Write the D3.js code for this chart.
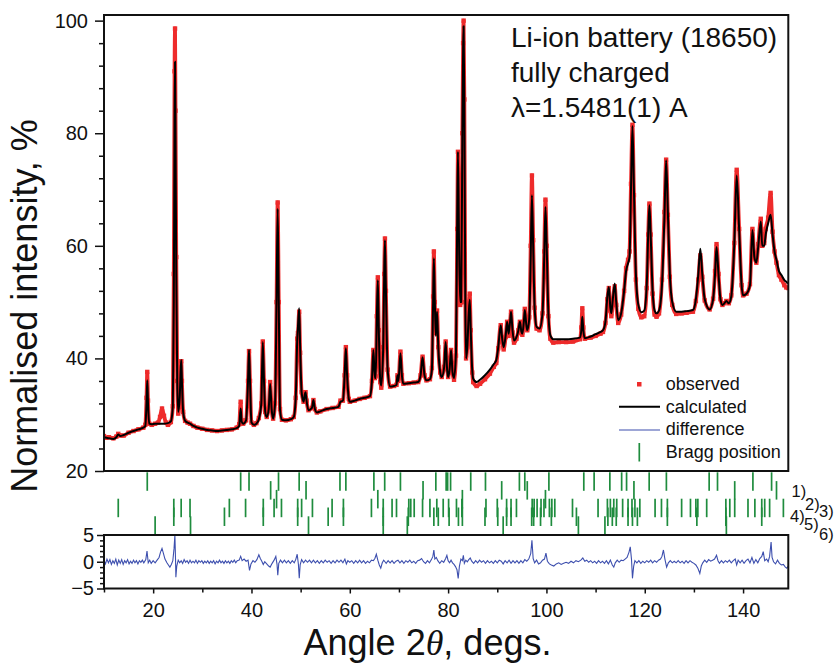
<!DOCTYPE html>
<html><head><meta charset="utf-8">
<script src="https://cdn.jsdelivr.net/npm/d3@7"></script>
<style>
body{margin:0;background:#fff;}
svg text{font-family:"Liberation Sans",Arial,sans-serif;fill:#111;}
</style>
</head><body>
<svg id="c" width="835" height="668"></svg>
<script>
// ---------- data ----------
const calculated = [
[10.0,26.0],[10.5,25.9],[11.0,25.8],[11.9,25.7],[12.5,26.0],[12.9,26.5],[13.3,26.2],[14.0,26.4],[15.0,26.8],[16.0,27.1],[17.0,27.4],[18.0,27.7],[18.4,28.0],[18.65,32.0],[18.8,36.1],[18.95,32.0],[19.2,28.4],[19.7,28.3],[20.4,28.4],[21.0,28.4],[22.0,28.4],[23.0,28.5],[23.6,28.8],[24.0,31.5],[24.2,50],[24.35,82],[24.45,92.7],[24.55,80],[24.7,55],[24.9,36],[25.1,30.5],[25.4,33],[25.6,38],[25.72,39.7],[25.85,36],[26.1,30.5],[26.5,28.9],[27.0,28.6],[27.5,28.4],[28.2,28.0],[29.0,27.7],[30.0,27.5],[31.0,27.3],[32.0,27.2],[33.0,27.1],[34.0,27.2],[35.0,27.3],[36.0,27.4],[37.0,27.6],[37.5,28.0],[37.8,31.1],[38.0,28.8],[38.3,28.4],[38.9,29.0],[39.3,36],[39.5,41.5],[39.7,36],[40.0,28.6],[40.5,28.2],[41.0,28.4],[41.5,29.2],[42.0,32],[42.3,42.9],[42.55,36],[42.8,30.5],[43.1,29.6],[43.5,31],[43.8,35.5],[44.1,31],[44.4,29.3],[44.8,32],[45.1,50],[45.33,66.6],[45.55,50],[45.8,31],[46.2,29.1],[47.0,29.0],[48.0,29.2],[48.6,29.6],[49.0,33],[49.3,43],[49.45,45.5],[49.7,48.9],[49.9,42],[50.2,34],[50.6,32.3],[50.85,33.6],[51.0,34.0],[51.2,32.5],[51.6,30.8],[52.3,31.2],[52.6,32.6],[52.9,31.0],[53.3,30.4],[54.0,30.6],[55.3,31.0],[56.5,31.2],[57.7,31.4],[58.1,32.3],[58.6,32.5],[58.95,37],[59.2,41.8],[59.45,37],[59.8,32.8],[60.0,32.3],[61.0,32.5],[62.0,32.8],[63.0,33.0],[64.1,33.3],[64.5,36],[64.8,41.5],[65.1,36.5],[65.25,36.5],[65.5,47],[65.7,53.9],[65.9,45],[66.2,36],[66.4,35.2],[66.8,42],[67.0,55],[67.15,61.0],[67.35,52],[67.7,38],[68.2,35.0],[69.0,35.1],[69.5,35.3],[69.7,37.0],[69.9,36],[70.3,40.9],[70.6,37],[70.9,35.5],[72.0,35.6],[73.0,35.7],[73.9,35.8],[74.4,37],[74.8,40.2],[75.2,37],[75.6,36.1],[76.3,36.3],[76.7,38],[76.95,50],[77.1,57.8],[77.3,50],[77.5,44],[77.75,48.3],[78.0,42],[78.4,37.5],[78.7,36.7],[79.2,38.5],[79.5,42.9],[79.8,38],[80.0,36.7],[80.3,38],[80.6,41.5],[80.9,37.5],[81.2,36.5],[81.6,41],[81.85,65],[82.0,76.7],[82.2,62],[82.45,50],[82.65,50],[82.9,80],[83.05,95],[83.15,99.0],[83.3,85],[83.5,50],[83.65,40],[83.9,42],[84.2,48],[84.4,50.4],[84.6,45],[84.9,38],[85.1,36.4],[85.8,35.8],[86.5,36.2],[87.5,37.0],[88.5,38.0],[89.3,39.0],[89.8,39.7],[90.2,42],[90.7,45.9],[91.0,43.5],[91.3,42.0],[91.7,44],[92.0,46.5],[92.3,44.4],[92.6,46.5],[92.8,48.3],[93.1,45],[93.4,43.2],[93.9,43.8],[94.3,45],[94.6,46.5],[94.9,44.8],[95.1,44.4],[95.4,46.5],[95.6,48.6],[95.9,46],[96.1,45.0],[96.5,47],[96.8,58],[97.05,69.0],[97.3,60],[97.6,49],[98.0,45.6],[98.6,45.3],[99.2,48],[99.55,58],[99.8,66.9],[100.05,60],[100.4,48],[100.8,44.1],[101.4,43.4],[102.5,43.4],[104.0,43.4],[105.4,43.5],[106.8,43.7],[107.1,45],[107.3,47.4],[107.5,45],[107.8,43.6],[109.0,43.9],[110.0,44.3],[111.0,44.7],[111.5,45.0],[112.0,46.5],[112.4,51],[112.7,52.7],[113.0,49],[113.2,48.0],[113.5,50.5],[113.9,53.3],[114.2,50],[114.6,46.8],[115.2,48],[115.8,52],[116.2,55.5],[116.6,56.9],[116.9,58],[117.2,70],[117.5,81.3],[117.8,70],[118.2,55],[118.7,49.5],[119.3,48.2],[119.9,48.5],[120.4,53],[120.7,62],[120.95,67.2],[121.2,62],[121.6,52],[122.0,48.5],[122.4,48.0],[122.9,48.5],[123.5,53],[124.0,65],[124.35,75.2],[124.7,66],[125.1,55],[125.6,50],[126.4,48.3],[127.5,48.3],[128.5,48.4],[129.8,48.6],[130.4,50.5],[130.9,55],[131.3,59.5],[131.7,55],[132.2,50.5],[133.2,48.7],[133.9,50.5],[134.3,55],[134.6,59.8],[135.0,55],[135.4,50.5],[135.8,49.5],[136.2,49.8],[136.6,50.2],[137.1,49.8],[137.6,51],[138.2,60],[138.7,72.5],[139.2,63],[139.7,53],[140.0,51.2],[140.7,51.5],[141.4,53],[141.9,62.8],[142.3,58],[142.7,57],[143.1,60],[143.6,64.3],[143.9,60],[144.3,60],[144.6,62],[145.1,64],[145.6,65.5],[146.0,62],[146.4,59],[146.8,57.5],[147.3,55.5],[147.8,54.8],[148.4,53.9],[148.8,53.6],[149.2,53.3]
];
const observed = [
[10.0,26.2],[10.5,25.9],[11.0,26.0],[11.9,25.8],[12.5,26.1],[12.9,26.6],[13.3,26.3],[14.0,26.3],[15.0,26.8],[16.0,27.1],[17.0,27.4],[18.0,27.7],[18.4,28.2],[18.65,33.0],[18.8,37.6],[18.95,32.5],[19.2,28.4],[19.7,28.2],[20.4,28.4],[21.0,28.6],[21.4,29.6],[21.8,31.1],[22.2,29.8],[22.6,28.6],[23.0,28.2],[23.6,28.7],[24.0,31.5],[24.2,55],[24.35,91],[24.45,98.6],[24.55,84],[24.7,58],[24.9,36],[25.1,30.2],[25.4,33],[25.6,38],[25.72,39.5],[25.85,36],[26.1,30.5],[26.5,28.9],[27.0,28.6],[27.5,28.4],[28.2,28.0],[29.0,27.7],[30.0,27.5],[31.0,27.3],[32.0,27.2],[33.0,27.1],[34.0,27.2],[35.0,27.3],[36.0,27.4],[37.0,27.7],[37.5,28.3],[37.8,32.3],[38.0,29.0],[38.3,28.4],[38.9,29.0],[39.3,36],[39.5,41.3],[39.7,36],[40.0,28.6],[40.5,28.2],[41.0,28.5],[41.5,29.4],[42.0,32],[42.3,43.0],[42.55,36],[42.8,30.5],[43.1,29.6],[43.5,31],[43.8,35.8],[44.1,31],[44.4,29.3],[44.8,32],[45.1,50],[45.33,67.7],[45.55,50],[45.8,31],[46.2,29.1],[47.0,29.0],[48.0,29.2],[48.6,29.6],[49.0,33],[49.3,43.5],[49.45,44.5],[49.7,48.3],[49.9,41],[50.2,34],[50.6,32.3],[50.85,33.6],[51.0,34.0],[51.2,32.5],[51.6,30.8],[52.3,31.2],[52.6,32.6],[52.9,31.0],[53.3,30.4],[54.0,30.6],[55.3,31.0],[56.5,31.2],[57.7,31.4],[58.1,32.5],[58.6,32.5],[58.95,37],[59.2,42.0],[59.45,37],[59.8,32.8],[60.0,32.3],[61.0,32.5],[62.0,32.8],[63.0,33.0],[64.1,33.3],[64.5,36],[64.8,41.5],[65.1,36.5],[65.25,36.8],[65.5,47.5],[65.7,54.4],[65.9,45],[66.2,35.8],[66.4,34.8],[66.8,42],[67.0,55],[67.15,61.3],[67.35,52],[67.7,38],[68.2,35.0],[69.0,35.1],[69.5,35.3],[69.7,37.0],[69.9,36],[70.3,41.2],[70.6,37],[70.9,35.5],[72.0,35.6],[73.0,35.7],[73.9,35.8],[74.4,37],[74.8,40.3],[75.2,37],[75.6,36.1],[76.3,36.3],[76.7,38.3],[76.95,51],[77.1,59.0],[77.3,50],[77.5,44.5],[77.75,48.5],[78.0,42],[78.4,37.5],[78.7,36.7],[79.2,38.5],[79.5,43.0],[79.8,38.5],[80.0,36.7],[80.3,38],[80.6,41.5],[80.9,37.5],[81.2,36.2],[81.6,40.5],[81.85,63],[82.0,76.7],[82.2,62],[82.45,49.5],[82.65,50],[82.9,80],[83.05,96],[83.15,100.0],[83.3,86],[83.5,50],[83.65,40],[83.9,42],[84.2,48.5],[84.4,51.5],[84.6,45],[84.9,37.5],[85.1,35.8],[85.8,35.1],[86.5,35.5],[87.5,36.3],[88.5,37.3],[89.3,38.5],[89.8,39.2],[90.2,41.8],[90.7,45.9],[91.0,43.2],[91.3,41.6],[91.7,43.8],[92.0,46.5],[92.3,44],[92.6,46.5],[92.8,48.3],[93.1,44.6],[93.4,42.8],[93.9,43.5],[94.3,45],[94.6,46.5],[94.9,44.5],[95.1,44.2],[95.4,46.5],[95.6,48.8],[95.9,46],[96.1,45.0],[96.5,47.3],[96.8,60],[97.05,72.5],[97.3,61],[97.6,49],[98.0,45.3],[98.6,45.0],[99.2,48],[99.55,59],[99.8,68.2],[100.05,60],[100.4,47.5],[100.8,43.5],[101.4,42.8],[102.5,42.9],[104.0,42.9],[105.4,43.0],[106.8,43.4],[107.1,45.5],[107.3,48.9],[107.5,45.5],[107.8,43.5],[109.0,43.7],[110.0,44.0],[111.0,44.4],[111.5,44.7],[112.0,46.3],[112.4,50.5],[112.7,52.5],[113.0,48.5],[113.2,47.5],[113.5,49.8],[113.9,52.8],[114.2,49.5],[114.6,46.3],[115.2,47.8],[115.8,52],[116.2,56],[116.6,57.5],[116.9,59],[117.2,71],[117.5,81.5],[117.8,69],[118.2,54],[118.7,48.8],[119.3,47.3],[119.9,47.5],[120.4,52.5],[120.7,62],[120.95,67.5],[121.2,62],[121.6,51.5],[122.0,47.8],[122.4,47.4],[122.9,48.0],[123.5,54],[124.0,66],[124.35,75.3],[124.7,65.5],[125.1,54.5],[125.6,49.5],[126.4,47.9],[127.5,48.0],[128.5,48.1],[129.8,48.3],[130.4,50.2],[130.9,54],[131.3,58.3],[131.7,54.5],[132.2,50.3],[133.2,48.7],[133.9,50.6],[134.3,55.5],[134.6,60.3],[135.0,55],[135.4,50.5],[135.8,49.5],[136.2,49.8],[136.6,50.2],[137.1,49.8],[137.6,51.2],[138.2,60.5],[138.7,73.5],[139.2,63],[139.7,53],[140.0,51.2],[140.7,51.5],[141.4,53.2],[141.9,63.0],[142.3,58],[142.7,57],[143.1,60.3],[143.6,64.8],[143.9,60],[144.3,60.5],[144.6,63],[145.1,65],[145.6,69.4],[146.0,62.5],[146.4,59],[146.8,57],[147.3,54.8],[147.8,54.0],[148.4,53.0],[148.8,52.6],[149.2,52.5]
];
const difference = [
[10.0,0.3],[10.3,-0.4],[10.6,0.5],[10.9,-0.2],[11.2,0.4],[11.5,-0.5],[11.8,0.2],[12.1,-0.3],[12.4,0.5],[12.7,-0.6],[13.0,0.3],[13.3,-0.3],[13.6,0.4],[13.9,-0.5],[14.2,0.2],[14.5,-0.2],[14.8,0.4],[15.1,-0.4],[15.4,0.1],[15.7,-0.3],[16.0,0.3],[16.3,-0.2],[16.6,0.2],[16.9,-0.4],[17.2,0.2],[17.5,-0.1],[17.8,0.3],[18.1,-0.2],[18.5,0.4],[18.75,2.0],[19.0,-0.2],[19.3,0.3],[19.6,-0.3],[20.0,0.2],[20.4,-0.2],[20.8,0.3],[21.2,0.8],[21.5,1.8],[21.8,2.5],[22.1,1.5],[22.4,0.5],[22.8,-0.2],[23.1,-0.6],[23.4,-1.0],[23.7,-0.5],[24.0,0.2],[24.25,2.5],[24.42,5.0],[24.55,0.5],[24.62,-2.9],[24.8,-0.8],[25.1,0.3],[25.4,-0.2],[25.7,0.2],[26.0,-0.3],[26.3,0.4],[26.6,-0.1],[26.9,0.2],[27.2,-0.3],[27.5,0.3],[27.8,-0.2],[28.1,0.1],[28.4,-0.2],[28.7,0.3],[29.0,-0.3],[29.3,0.2],[29.6,-0.1],[29.9,0.2],[30.2,-0.3],[30.5,0.1],[30.8,-0.2],[31.1,0.2],[31.4,-0.3],[31.7,0.1],[32.0,-0.2],[32.3,0.2],[32.6,-0.4],[32.9,0.1],[33.2,-0.2],[33.5,0.3],[33.8,-0.2],[34.1,0.1],[34.4,-0.3],[34.7,0.2],[35.0,-0.2],[35.3,0.1],[35.6,-0.3],[35.9,0.2],[36.2,-0.1],[36.5,0.3],[36.8,-0.2],[37.1,0.2],[37.5,0.3],[37.8,1.0],[38.1,0.2],[38.5,0.5],[38.9,0.1],[39.3,0.3],[39.6,-1.6],[39.9,-0.4],[40.3,0.2],[40.7,-0.1],[41.1,0.4],[41.5,1.3],[41.8,0.6],[42.1,0.1],[42.4,-0.5],[42.7,0.0],[43.1,-0.4],[43.5,-0.8],[43.8,-1.0],[44.2,-0.3],[44.6,0.3],[44.95,1.0],[45.2,-0.5],[45.35,-2.5],[45.55,-0.3],[45.9,0.3],[46.3,-0.2],[46.7,0.3],[47.1,-0.2],[47.5,0.2],[47.9,-0.3],[48.3,0.2],[48.7,-0.2],[49.0,0.4],[49.3,1.4],[49.55,-0.5],[49.72,-3.1],[49.9,-0.6],[50.2,0.4],[50.6,-0.2],[51.0,0.3],[51.4,-0.1],[51.8,0.3],[52.2,-0.2],[52.6,0.3],[53.0,-0.2],[53.4,0.2],[53.8,-0.3],[54.2,0.2],[54.6,-0.2],[55.0,0.3],[55.4,-0.1],[55.8,0.2],[56.2,-0.3],[56.6,0.2],[57.0,-0.2],[57.4,0.3],[57.8,-0.1],[58.2,0.3],[58.6,-0.2],[59.0,0.5],[59.3,-0.4],[59.6,0.2],[60.0,-0.1],[60.4,0.2],[60.8,-0.3],[61.2,0.2],[61.6,-0.2],[62.0,0.3],[62.4,-0.2],[62.8,0.2],[63.2,-0.3],[63.6,0.1],[64.0,-0.2],[64.4,0.3],[64.8,0.2],[65.1,0.6],[65.4,1.4],[65.7,0.3],[66.0,-0.6],[66.3,-1.2],[66.6,-0.2],[66.9,0.3],[67.15,0.0],[67.4,-0.3],[67.8,0.2],[68.2,-0.2],[68.6,0.2],[69.0,-0.3],[69.4,0.1],[69.8,0.3],[70.2,-0.2],[70.6,0.2],[71.0,-0.3],[71.4,0.2],[71.8,-0.1],[72.2,0.3],[72.6,-0.2],[73.0,0.1],[73.4,-0.3],[73.8,0.2],[74.2,0.3],[74.6,0.6],[75.0,0.0],[75.4,-0.3],[75.8,0.2],[76.2,-0.2],[76.6,0.4],[76.9,1.0],[77.1,2.2],[77.3,0.5],[77.6,0.8],[77.9,0.2],[78.3,-0.3],[78.7,0.2],[79.1,-0.1],[79.5,0.6],[79.75,1.2],[80.0,0.2],[80.3,-0.2],[80.6,0.3],[80.9,-0.2],[81.2,-0.5],[81.5,-0.9],[81.8,-1.5],[82.05,-3.1],[82.3,-0.8],[82.6,0.5],[82.9,0.2],[83.1,1.2],[83.3,-0.3],[83.6,0.3],[83.9,0.0],[84.2,0.4],[84.5,0.7],[84.8,0.1],[85.2,-0.3],[85.6,0.2],[86.0,-0.2],[86.4,0.3],[86.8,-0.1],[87.2,0.2],[87.6,-0.3],[88.0,0.2],[88.4,-0.2],[88.8,0.1],[89.2,-0.3],[89.6,0.2],[90.0,-0.2],[90.4,0.3],[90.8,0.1],[91.2,-0.4],[91.6,0.2],[92.0,-0.2],[92.4,0.3],[92.8,-0.3],[93.2,0.2],[93.6,-0.2],[94.0,0.2],[94.4,-0.3],[94.8,0.2],[95.2,-0.2],[95.6,0.4],[96.0,0.1],[96.4,0.5],[96.8,1.5],[97.05,4.0],[97.3,0.6],[97.6,-0.2],[98.0,0.3],[98.4,-0.4],[98.8,-0.2],[99.2,0.3],[99.6,0.5],[99.9,1.6],[100.2,0.1],[100.6,-0.4],[101.0,-0.6],[101.5,-0.8],[102.0,-0.4],[102.5,-0.2],[103.0,-0.5],[103.5,-0.3],[104.0,-0.1],[104.5,-0.3],[105.0,0.1],[105.5,-0.2],[106.0,0.2],[106.5,0.0],[107.0,0.3],[107.4,0.7],[107.8,0.1],[108.2,0.3],[108.6,-0.1],[109.0,0.2],[109.4,-0.2],[109.8,0.1],[110.2,-0.3],[110.6,0.2],[111.0,-0.2],[111.4,0.1],[111.8,-0.3],[112.2,0.2],[112.6,-0.4],[113.0,0.3],[113.4,-0.6],[113.7,-1.0],[114.0,-0.2],[114.4,0.3],[114.8,-0.1],[115.2,0.3],[115.6,0.2],[116.0,0.5],[116.4,0.8],[116.8,1.8],[117.05,2.8],[117.3,0.5],[117.5,-3.1],[117.75,-0.8],[118.0,0.2],[118.4,-0.2],[118.8,0.2],[119.2,-0.3],[119.6,0.1],[120.0,-0.2],[120.4,0.2],[120.8,-0.1],[121.2,0.3],[121.6,-0.2],[122.0,0.2],[122.4,-0.1],[122.8,0.3],[123.2,0.5],[123.5,1.0],[123.8,2.2],[124.1,0.5],[124.45,-1.0],[124.8,-0.2],[125.2,0.2],[125.6,-0.2],[126.0,0.1],[126.4,-0.2],[126.8,0.2],[127.2,-0.2],[127.6,0.1],[128.0,-0.3],[128.4,0.2],[128.8,-0.2],[129.2,0.2],[129.6,-0.1],[130.0,-0.3],[130.4,-0.6],[130.8,-1.2],[131.2,-2.2],[131.5,-0.8],[131.8,-0.2],[132.2,0.3],[132.6,-0.1],[133.0,0.4],[133.4,0.1],[133.8,0.3],[134.2,0.5],[134.6,1.2],[134.9,0.2],[135.2,-0.3],[135.6,0.2],[136.0,-0.2],[136.4,0.2],[136.8,-0.1],[137.2,0.3],[137.6,-0.2],[138.0,0.2],[138.4,0.5],[138.7,-0.6],[139.0,0.3],[139.4,-0.2],[139.8,0.3],[140.2,-0.3],[140.6,0.2],[141.0,0.5],[141.4,-0.2],[141.8,0.8],[142.2,-0.3],[142.6,0.4],[143.0,-0.2],[143.4,0.6],[143.8,1.0],[144.1,1.9],[144.4,0.2],[144.8,0.5],[145.1,0.0],[145.4,1.0],[145.7,3.7],[145.9,0.8],[146.2,0.0],[146.6,-0.4],[147.0,0.3],[147.4,-0.3],[147.8,-0.6],[148.2,-0.5],[148.6,-1.0],[148.9,-1.2],[149.2,-0.8]
];
const braggPhase1 = [18.8,37.8,39.5,45.5,49.7,58.0,59.2,64.9,67.1,70.3,77.5,79.6,79.9,80.5,84.6,87.6,94.5,95.6,100.5,107.6,109.7,112.9,115.3,116.3,120.9,124.4,133.1,134.8,142.0,145.8];
const braggPhase2 = [43.9,51.1,74.9,90.9,96.1,117.8,138.3,146.8];
const braggPhase3 = [45.1,65.7,82.9,99.8];
const braggPhase4 = [12.9,24.2,25.7,27.5,35.5,38.8,42.4,44.6,46.1,49.4,50.2,52.4,56.4,58.7,64.4,66.8,68.6,69.5,72.0,72.4,73.1,74.8,76.3,77.7,79.0,80.1,81.7,82.8,87.7,90.0,91.9,92.8,93.9,97.1,97.5,98.1,98.9,99.5,100.6,101.1,101.7,105.3,110.5,112.4,113.0,113.7,114.3,115.5,116.6,117.4,118.0,119.0,122.1,123.4,124.6,127.5,129.3,130.4,130.8,132.6,136.5,137.3,138.3,141.0,142.4,143.8,144.4,145.4,148.2];
const braggPhase5 = [24.2,34.5,42.4,49.4,55.6,58.7,66.8,71.9,77.1,78.0,80.2,82.1,82.9,87.5,90.1,91.9,92.8,97.0,97.4,98.8,101.0,106.1,112.5,113.4,114.2,116.6,117.5,118.5,124.6,130.6,136.5,143.8];
const braggPhase6 = [20.4,27.6,51.6,66.8,71.7,91.2,106.5,111.9,136.6];
const phaseLabels = ["1)","2)","3)","4)","5)","6)"];
const xMajorTicks = [20,40,60,80,100,120,140];
const xMinorTicks = [10,30,50,70,90,110,130];
const yMajorTicks = [20,40,60,80,100];
const yMinorTicks = [24,28,32,36,44,48,52,56,64,68,72,76,84,88,92,96];
const diffMajorTicks = [-5,0,5];
const diffMinorTicks = [-4,-3,-2,-1,1,2,3,4];
const annotationLines = ["Li-ion battery (18650)","fully charged","\u03bb=1.5481(1) A"];
const legendLabels = ["observed","calculated","difference","Bragg position"];

// ---------- drawing ----------
const svg = d3.select("#c");
const FONT = '"Liberation Sans",Arial,sans-serif';
const RED = "#ee2b2b", BLUE = "#3d4fae", GREEN = "#1f8c3e";
const x = d3.scaleLinear().domain([10,149.2]).range([104,788.3]);
const y = d3.scaleLinear().domain([20,101]).range([471,15]);
const yd = d3.scaleLinear().domain([-5,5]).range([588.5,535]);

const defs = svg.append("defs");
defs.append("clipPath").attr("id","clipMain").append("rect")
  .attr("x",104).attr("y",15).attr("width",684.3).attr("height",456);
defs.append("clipPath").attr("id","clipDiff").append("rect")
  .attr("x",104).attr("y",535).attr("width",684.3).attr("height",53.5);

const gMain = svg.append("g").attr("clip-path","url(#clipMain)");
const lineMain = d3.line().x(d=>x(d[0])).y(d=>y(d[1])).curve(d3.curveMonotoneX);

// observed band + markers
gMain.append("path").datum(observed).attr("d",lineMain)
  .attr("fill","none").attr("stroke",RED).attr("stroke-width",3.8).attr("stroke-linejoin","round");
gMain.selectAll("rect.obs").data(observed).join("rect").attr("class","obs")
  .attr("x",d=>x(d[0])-2.2).attr("y",d=>y(d[1])-2.2).attr("width",4.4).attr("height",4.4)
  .attr("fill",RED);
// calculated
gMain.append("path").datum(calculated).attr("d",lineMain)
  .attr("fill","none").attr("stroke","#000").attr("stroke-width",2).attr("stroke-linejoin","round");

// difference
const gDiff = svg.append("g").attr("clip-path","url(#clipDiff)");
gDiff.append("path").datum(difference)
  .attr("d",d3.line().x(d=>x(d[0])).y(d=>yd(d[1])))
  .attr("fill","none").attr("stroke",BLUE).attr("stroke-width",1.1);

// Bragg ticks
const phases = [braggPhase1,braggPhase2,braggPhase3,braggPhase4,braggPhase5,braggPhase6];
phases.forEach((ph,i)=>{
  const top = 472.3 + i*8.8;
  svg.append("g").selectAll("line").data(ph).join("line")
    .attr("x1",d=>x(d)).attr("x2",d=>x(d))
    .attr("y1",top).attr("y2",top+18.5)
    .attr("stroke",GREEN).attr("stroke-width",1.7);
});
const labelPos = [[791.5,497],[805,509.5],[819,516.5],[790,522],[804,529.5],[819,539.5]];
svg.append("g").selectAll("text").data(phaseLabels).join("text")
  .attr("x",(d,i)=>labelPos[i][0]).attr("y",(d,i)=>labelPos[i][1])
  .attr("font-size",16.5).text(d=>d);

// frames
svg.append("rect").attr("x",104).attr("y",15).attr("width",684.3).attr("height",456)
  .attr("fill","none").attr("stroke","#111").attr("stroke-width",2);
svg.append("rect").attr("x",104).attr("y",535).attr("width",684.3).attr("height",53.5)
  .attr("fill","none").attr("stroke","#111").attr("stroke-width",2);

function styleAxis(g){
  g.select(".domain").remove();
  g.selectAll("line").attr("stroke","#111").attr("stroke-width",1.5);
  g.selectAll("text").attr("font-family",FONT).attr("font-size",20).attr("fill","#111");
}
// main y axis
svg.append("g").attr("transform","translate(104,0)")
  .call(d3.axisLeft(y).tickValues(yMajorTicks).tickSize(9).tickPadding(7).tickFormat(d3.format("d")))
  .call(styleAxis);
svg.append("g").attr("transform","translate(104,0)")
  .call(d3.axisLeft(y).tickValues(yMinorTicks).tickSize(5).tickFormat(""))
  .call(styleAxis);
// diff y axis
svg.append("g").attr("transform","translate(104,0)")
  .call(d3.axisLeft(yd).tickValues(diffMajorTicks).tickSize(7).tickPadding(3).tickFormat(d3.format("d")))
  .call(styleAxis);
svg.append("g").attr("transform","translate(104,0)")
  .call(d3.axisLeft(yd).tickValues(diffMinorTicks).tickSize(4).tickFormat(""))
  .call(styleAxis);
// x axis
svg.append("g").attr("transform","translate(0,588.5)")
  .call(d3.axisBottom(x).tickValues(xMajorTicks).tickSize(5).tickPadding(9))
  .call(styleAxis);
svg.append("g").attr("transform","translate(0,588.5)")
  .call(d3.axisBottom(x).tickValues(xMinorTicks).tickSize(4).tickFormat(""))
  .call(styleAxis);

// axis titles
svg.append("text").attr("transform","translate(37,306) rotate(-90)")
  .attr("text-anchor","middle").attr("font-size",36).text("Normalised intensity, %");
const xt = svg.append("text").attr("x",427.5).attr("y",655).attr("text-anchor","middle").attr("font-size",36);
xt.append("tspan").text("Angle 2");
xt.append("tspan").attr("font-style","italic").attr("font-family",'"Liberation Serif","Times New Roman",serif').text("\u03b8");
xt.append("tspan").text(", degs.");

// annotation
svg.append("g").selectAll("text").data(annotationLines).join("text")
  .attr("x",511).attr("y",(d,i)=>46.7+i*35).attr("font-size",28).text(d=>d);

// legend
const lg = svg.append("g");
lg.append("rect").attr("x",637).attr("y",382).attr("width",4.5).attr("height",4.5).attr("fill",RED);
lg.append("line").attr("x1",619).attr("x2",660).attr("y1",406.7).attr("y2",406.7).attr("stroke","#000").attr("stroke-width",2);
lg.append("line").attr("x1",619).attr("x2",660).attr("y1",430).attr("y2",430).attr("stroke",BLUE).attr("stroke-width",1.1);
lg.append("line").attr("x1",639.3).attr("x2",639.3).attr("y1",443).attr("y2",461.5).attr("stroke",GREEN).attr("stroke-width",1.7);
lg.selectAll("text").data(legendLabels).join("text")
  .attr("x",665.7).attr("y",(d,i)=>390+i*22.5).attr("font-size",18).text(d=>d);
</script>
</body></html>
